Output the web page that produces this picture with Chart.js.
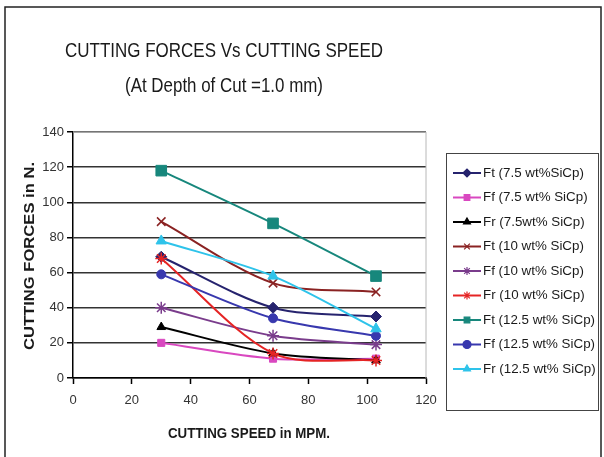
<!DOCTYPE html>
<html>
<head>
<meta charset="utf-8">
<script src="https://cdn.jsdelivr.net/npm/chart.js@4.4.0/dist/chart.umd.min.js"></script>
<style>
body { margin: 0; background: #fff; }
canvas { display: block; }
</style>
</head>
<body>
<canvas id="forceChart" width="604" height="457"></canvas>
<script>
// Data
const speeds = [30, 68, 103];
const seriesNames = [
    'Ft (7.5 wt%SiCp)', 'Ff (7.5 wt% SiCp)', 'Fr (7.5wt% SiCp)',
    'Ft (10 wt% SiCp)', 'Ff (10 wt% SiCp)', 'Fr (10 wt% SiCp)',
    'Ft (12.5 wt% SiCp)', 'Ff (12.5 wt% SiCp)', 'Fr (12.5 wt% SiCp)'
];
const ft75 = [69, 40, 35];
const ff75 = [20, 11, 11];
const fr75 = [29, 14, 10];
const ft10 = [89, 54, 49];
const ff10 = [40, 24, 19];
const fr10 = [68, 14, 10];
const ft125 = [118, 88, 58];
const ff125 = [59, 34, 24];
const fr125 = [78, 58, 28];
const xTicks = [0, 20, 40, 60, 80, 100, 120];
const yTicks = [0, 20, 40, 60, 80, 100, 120, 140];

const allSeries = [ft75, ff75, fr75, ft10, ff10, fr10, ft125, ff125, fr125];
const colors = ['#26236e', '#d948c0', '#000000', '#8a2222', '#7a3c8c', '#e52424', '#17877c', '#3838ae', '#2ec3ea'];
const markers = ['rectRot', 'rect', 'triangle', 'crossRot', 'star', 'star', 'rect', 'circle', 'triangle'];
const markerSizes = [5.5, 5, 5, 6, 6, 6, 7.5, 4.5, 6];

const FONT = "'Liberation Sans', Arial, sans-serif";
Chart.defaults.font.family = FONT;

const datasets = allSeries.map(function(values, i) {
    return {
        label: seriesNames[i],
        data: values.map(function(v, j) { return { x: speeds[j], y: v }; }),
        borderColor: colors[i],
        backgroundColor: colors[i],
        borderWidth: 2,
        pointStyle: markers[i],
        pointRadius: markerSizes[i],
        pointBorderWidth: (markers[i] === 'crossRot' || markers[i] === 'star') ? 1.5 : 1,
        tension: 0.3,
        order: allSeries.length - i
    };
});

// draw text squeezed/stretched to a given width (the original font is condensed)
function fitText(ctx, text, x, y, width) {
    const w = ctx.measureText(text).width;
    ctx.save();
    ctx.translate(x, y);
    ctx.scale(width / w, 1);
    ctx.fillText(text, 0, 0);
    ctx.restore();
}

// Titles, plot border, legend and frame
const extras = {
    id: 'extras',
    afterDraw(chart) {
        const ctx = chart.ctx;
        const area = chart.chartArea;
        ctx.save();

        // outer frame
        ctx.strokeStyle = '#222';
        ctx.lineWidth = 1.5;
        ctx.strokeRect(5, 7, 596, 460);

        // plot border top/right
        ctx.strokeStyle = '#b8b8b8';
        ctx.lineWidth = 1;
        ctx.beginPath();
        ctx.moveTo(area.left, area.top);
        ctx.lineTo(area.right, area.top);
        ctx.lineTo(area.right, area.bottom);
        ctx.stroke();

        // title
        ctx.fillStyle = '#1a1a1a';
        ctx.textAlign = 'center';
        ctx.textBaseline = 'middle';
        ctx.font = '21px ' + FONT;
        fitText(ctx, 'CUTTING FORCES Vs CUTTING SPEED', 224, 51, 318);
        fitText(ctx, '(At Depth of Cut =1.0 mm)', 224, 86, 198);

        // axis titles
        ctx.font = 'bold 15px ' + FONT;
        fitText(ctx, 'CUTTING SPEED in MPM.', 249, 434, 162);
        ctx.save();
        ctx.translate(30, 256);
        ctx.rotate(-Math.PI / 2);
        ctx.font = 'bold 14px ' + FONT;
        fitText(ctx, 'CUTTING FORCES in N.', 0, 0, 188);
        ctx.restore();

        // legend
        ctx.strokeStyle = '#444';
        ctx.lineWidth = 1;
        ctx.strokeRect(446.5, 153.5, 152, 257);
        ctx.font = '13px ' + FONT;
        ctx.textAlign = 'left';
        const squeeze = 112 / ctx.measureText('Ft (12.5 wt% SiCp)').width;
        chart.data.datasets.forEach(function(ds, i) {
            const y = 173 + i * 24.5;
            ctx.strokeStyle = ds.borderColor;
            ctx.fillStyle = ds.backgroundColor;
            ctx.lineWidth = 2;
            ctx.beginPath();
            ctx.moveTo(453, y);
            ctx.lineTo(481, y);
            ctx.stroke();
            ctx.lineWidth = 1.2;
            Chart.helpers.drawPoint(ctx, { pointStyle: ds.pointStyle, radius: 4, rotation: 0, borderWidth: 1.2 }, 467, y);
            ctx.fillStyle = '#1a1a1a';
            fitText(ctx, ds.label, 483, y, ctx.measureText(ds.label).width * squeeze);
        });
        ctx.restore();
    }
};

const chart = new Chart(document.getElementById('forceChart'), {
    type: 'line',
    data: { datasets: datasets },
    options: {
        responsive: false,
        animation: false,
        layout: { padding: { left: 0, top: 132, right: 178, bottom: 0 } },
        plugins: { legend: { display: false }, tooltip: { enabled: false } },
        scales: {
            x: {
                type: 'linear',
                min: 0,
                max: 120,
                afterBuildTicks: function(scale) { scale.ticks = xTicks.map(function(v) { return { value: v }; }); },
                afterFit: function(scale) { scale.height = 79; },
                grid: { drawOnChartArea: false, tickLength: 6, tickColor: '#000', tickWidth: 1.5 },
                border: { color: '#000', width: 1.5 },
                ticks: { color: '#333', font: { size: 13 }, padding: 9 }
            },
            y: {
                min: 0,
                max: 140,
                afterBuildTicks: function(scale) { scale.ticks = yTicks.map(function(v) { return { value: v }; }); },
                afterFit: function(scale) { scale.width = 73; },
                grid: { color: '#333', lineWidth: 1.5, tickLength: 6, tickColor: '#000' },
                border: { color: '#000', width: 1.5 },
                ticks: { color: '#333', font: { size: 13 }, padding: 3 }
            }
        }
    },
    plugins: [extras]
});
</script>
</body>
</html>
